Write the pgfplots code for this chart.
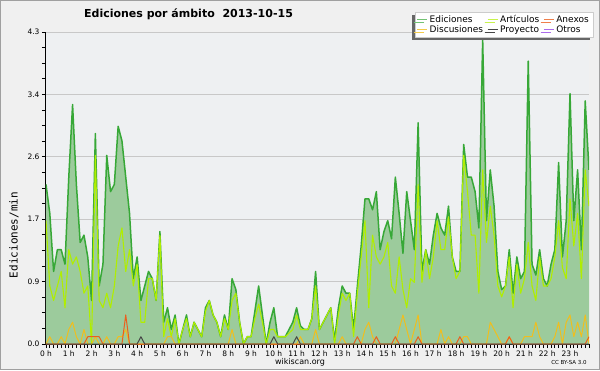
\documentclass[border=0pt]{standalone}
\usepackage{fontspec}
\setmainfont{DejaVu Sans}
\setmonofont{DejaVu Sans Mono}
\usepackage{pgfplots}
\pgfplotsset{compat=1.18}
\usepackage{pgfplotstable}
\usetikzlibrary{shadows}
\definecolor{outerbg}{RGB}{240,240,240}
\definecolor{plotbg}{RGB}{238,240,242}
\definecolor{framegray}{RGB}{160,160,160}
\definecolor{gridgray}{RGB}{200,200,200}
\definecolor{edfill}{RGB}{156,203,156}
\definecolor{edline}{RGB}{55,168,55}
\definecolor{artline}{RGB}{176,238,0}
\definecolor{discline}{RGB}{240,190,30}
\definecolor{anexline}{RGB}{235,95,30}
\definecolor{proyline}{RGB}{70,70,70}
\definecolor{otrosline}{RGB}{150,70,230}

\pgfplotstableread{
i E A D X P
0 2.2 1.7 0 0 0
1 1.8 0.8 0.1 0 0
2 1.0 0.6 0 0 0
3 1.3 0.8 0 0 0
4 1.3 1.0 0.1 0 0
5 1.1 0.5 0 0 0
6 2.3 1.3 0.2 0 0
7 3.3 1.1 0.3 0 0
8 2.2 1.2 0.1 0 0
9 1.4 1.0 0 0 0
10 1.5 0.7 0.2 0 0
11 1.2 0.8 0 0.1 0
12 0.6 0.0 0 0.1 0
13 2.9 2.6 0.1 0.1 0
14 0.8 0.6 0 0.1 0
15 1.1 0.5 0 0 0
16 2.6 0.7 0.1 0 0
17 2.1 0.5 0 0 0
18 2.2 0.8 0 0 0
19 3.0 1.35 0.1 0 0
20 2.8 1.6 0.1 0 0
21 2.3 1.0 0.2 0.4 0
22 1.8 1.3 0 0 0
23 0.9 0.8 0 0 0
24 1.2 1.1 0 0 0
25 0.6 0.3 0 0 0.1
26 0.8 0.3 0 0 0
27 1.0 0.9 0 0 0
28 0.9 0.9 0 0 0
29 0.6 0.6 0 0 0
30 1.55 1.5 0 0 0
31 0.3 0.1 0 0 0
32 0.5 0.35 0.1 0 0
33 0.2 0.1 0.1 0 0
34 0.4 0.35 0 0 0
35 0.0 0.0 0 0 0
36 0.2 0.2 0 0 0
37 0.4 0.35 0 0 0
38 0.1 0.1 0 0 0
39 0.3 0.3 0 0 0
40 0.2 0.2 0 0 0
41 0.1 0.1 0 0 0
42 0.5 0.45 0 0 0
43 0.6 0.6 0 0 0
44 0.4 0.4 0 0 0
45 0.3 0.3 0 0 0
46 0.1 0.1 0 0 0
47 0.4 0.35 0 0 0
48 0.2 0.2 0 0 0
49 0.9 0.6 0.2 0 0
50 0.75 0.7 0 0 0
51 0.3 0.3 0 0 0
52 0.0 0.0 0 0 0
53 0.1 0.1 0 0 0
54 0.1 0.1 0 0 0
55 0.45 0.35 0 0 0
56 0.8 0.55 0 0 0
57 0.4 0.3 0 0 0
58 0.0 0.0 0 0 0
59 0.3 0.2 0 0 0
60 0.5 0.2 0 0 0.1
61 0.1 0.1 0 0 0
62 0.1 0.1 0 0 0
63 0.1 0.1 0 0 0
64 0.2 0.15 0 0 0
65 0.3 0.2 0 0 0
66 0.5 0.4 0 0 0.1
67 0.25 0.2 0.1 0 0
68 0.2 0.2 0 0 0
69 0.2 0.2 0 0 0
70 0.35 0.35 0 0 0
71 1.0 0.8 0.2 0 0
72 0.2 0.2 0 0 0
73 0.3 0.3 0 0 0
74 0.4 0.4 0 0 0
75 0.5 0.5 0 0 0
76 0.05 0.0 0 0 0
77 0.5 0.4 0 0 0
78 0.8 0.7 0.1 0 0
79 0.7 0.6 0 0 0
80 0.7 0.7 0 0 0
81 0.2 0.1 0 0 0
82 0.8 0.7 0 0.1 0
83 1.35 1.2 0 0 0
84 2.0 1.7 0.2 0 0
85 2.0 0.5 0.3 0 0
86 1.85 1.5 0.1 0 0
87 2.1 1.2 0 0.1 0
88 1.3 1.1 0 0 0
89 1.55 1.2 0 0 0
90 1.7 1.4 0 0 0
91 1.45 0.8 0 0 0
92 2.3 0.7 0 0.1 0
93 1.8 1.2 0.2 0 0
94 1.25 0.75 0.4 0 0
95 2.1 0.5 0.2 0 0
96 1.7 0.9 0 0 0
97 1.3 0.85 0.2 0 0
98 3.05 2.2 0.4 0.1 0
99 1.0 0.85 0 0 0
100 1.3 1.3 0 0 0
101 1.1 0.9 0 0 0
102 1.5 1.2 0 0 0
103 1.8 1.7 0 0 0
104 1.6 1.3 0.2 0 0
105 1.5 1.3 0 0 0
106 1.9 1.75 0.1 0 0
107 1.2 1.2 0 0 0
108 1.0 0.9 0 0 0
109 1.0 1.0 0 0.1 0
110 2.75 2.6 0.1 0 0
111 2.3 2.1 0.1 0 0
112 2.3 1.5 0 0 0
113 2.1 1.5 0 0 0
114 1.6 0.7 0 0 0
115 4.2 2.4 0 0 0
116 1.7 1.4 0 0 0
117 2.4 1.9 0.3 0 0
118 1.9 1.5 0.2 0 0
119 1.0 0.8 0.1 0 0
120 0.75 0.65 0 0 0
121 0.8 0.8 0 0 0
122 1.3 1.2 0.1 0.1 0
123 0.7 0.5 0 0 0
124 1.2 1.1 0 0 0
125 0.9 0.7 0 0 0
126 1.0 0.9 0.1 0 0
127 3.9 1.4 0.1 0 0
128 1.1 0.8 0.1 0 0
129 0.95 0.6 0.3 0 0
130 1.3 1.2 0.1 0 0
131 0.9 0.8 0 0 0
132 0.8 0.8 0 0 0
133 1.1 0.9 0 0 0
134 1.3 1.2 0.1 0 0
135 2.5 1.7 0.3 0 0
136 1.2 1.05 0 0 0
137 1.7 0.9 0.3 0 0
138 3.45 2.0 0.4 0 0
139 1.7 1.35 0.1 0 0
140 2.4 1.8 0.3 0 0
141 1.3 0.9 0.1 0 0
142 3.35 2.4 0.4 0 0
143 2.4 1.9 0 0.1 0
}\data

\begin{document}
\begin{tikzpicture}[x=1pt,y=1pt]
\path[use as bounding box] (0,0) rectangle (600,370);
\fill[outerbg] (0,0) rectangle (600,370);
\draw[framegray, line width=1pt] (0.5,0.5) rectangle (599.5,369.5);
\begin{axis}[
  at={(46pt,26pt)}, anchor=south west,
  scale only axis, width=543pt, height=312pt,
  xmin=0, xmax=143, ymin=0, ymax=4.3,
  axis x line=bottom, axis y line=left,
  axis line style={-, black, line width=1pt},
  axis background/.style={fill=plotbg},
  xtick={0,6,...,138},
  xticklabels={0 h,1 h,2 h,3 h,4 h,5 h,6 h,7 h,8 h,9 h,10 h,11 h,12 h,13 h,14 h,15 h,16 h,17 h,18 h,19 h,20 h,21 h,22 h,23 h},
  minor xtick={0,1,...,143},
  ytick={0,0.86,1.72,2.58,3.44,4.3},
  yticklabels={0.0,0.9,1.7,2.6,3.4,4.3},
  minor ytick={0.215,0.43,0.645,1.075,1.29,1.505,1.935,2.15,2.365,2.795,3.01,3.225,3.655,3.87,4.085},
  tick align=outside, major tick length=4pt, minor tick length=4pt,
  every tick/.style={black, line width=0.8pt},
  ymajorgrids, grid style={gridgray, line width=0.8pt},
  tick label style={font=\fontsize{7.5}{8}\selectfont},
  xticklabel style={yshift=1pt},
  yticklabel style={xshift=1pt},
  legend columns=3,
  legend cell align=left,
  legend style={at={(1.0074,1.064)}, anchor=north east,
    draw=gray!40, fill=white, font=\fontsize{9}{10}\selectfont,
    drop shadow={shadow xshift=-3pt, shadow yshift=-3pt, fill=black!60, opacity=1},
    inner xsep=2pt, inner ysep=1pt, row sep=-2.5pt,
    /tikz/every even column/.append style={column sep=2pt}},
  legend image code/.code={\draw[#1, line width=1pt] (0pt,0pt) -- (10pt,0pt);},
  line join=round,
]
\addplot[fill=edfill, draw=none, forget plot] table[x=i,y=E] {\data} \closedcycle;
\addplot[edline, line width=1.5pt, forget plot] table[x=i,y=E] {\data};
\addplot[artline, line width=1.1pt, forget plot] table[x=i,y=A] {\data};
\addplot[discline, line width=1pt, forget plot] table[x=i,y=D] {\data};
\addplot[anexline, line width=1pt, forget plot] table[x=i,y=X] {\data};
\addplot[proyline, line width=1pt, forget plot] table[x=i,y=P] {\data};
\addlegendimage{edline!70!white}
\addlegendentry{Ediciones}
\addlegendimage{artline!70!white}
\addlegendentry{Artículos}
\addlegendimage{anexline!80!white}
\addlegendentry{Anexos}
\addlegendimage{discline!80!white}
\addlegendentry{Discusiones}
\addlegendimage{proyline}
\addlegendentry{Proyecto}
\addlegendimage{otrosline!80!white}
\addlegendentry{Otros}
\end{axis}
\node[font=\bfseries\fontsize{11}{12}\selectfont, anchor=base] at (188.5,352) {Ediciones por ámbito\hspace{0.7em}2013-10-15};
\node[rotate=90, font=\ttfamily\fontsize{11}{12}\selectfont] at (14,135) {Ediciones/min};
\node[font=\fontsize{8}{9}\selectfont, anchor=base] at (300,6) {wikiscan.org};
\node[font=\fontsize{5.5}{6}\selectfont] at (569,8) {CC BY-SA 3.0};
\end{tikzpicture}
\end{document}
